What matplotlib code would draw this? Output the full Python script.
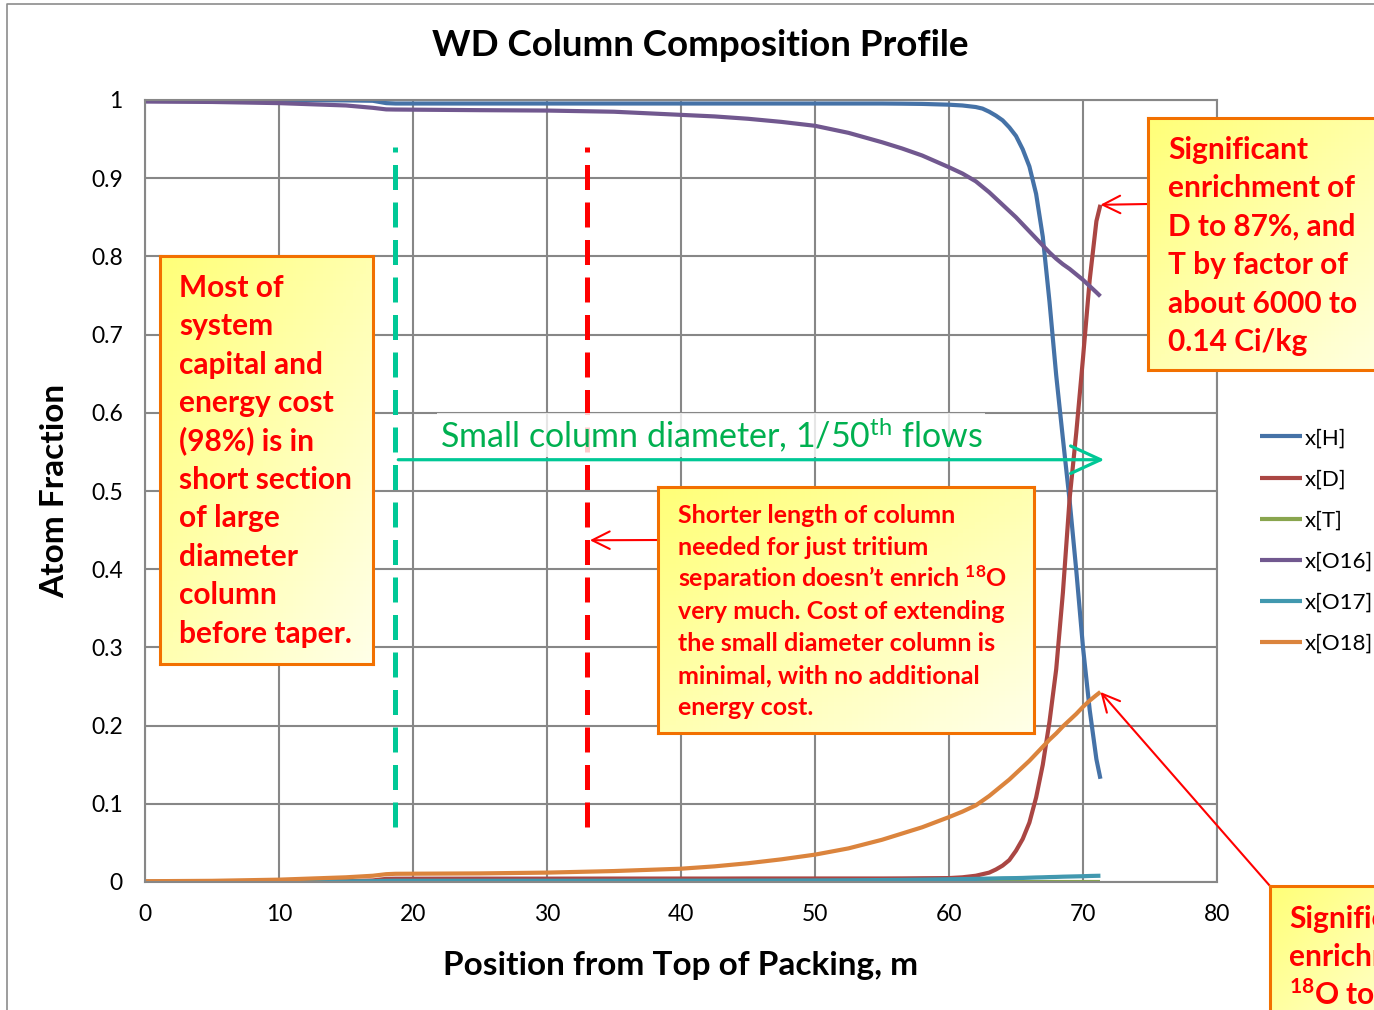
import numpy as np
import matplotlib.pyplot as plt
from matplotlib.colors import LinearSegmentedColormap
from matplotlib.lines import Line2D

plt.rcParams['font.family'] = ['Lato', 'DejaVu Sans']
plt.rcParams['mathtext.fontset'] = 'custom'
plt.rcParams['mathtext.rm'] = 'Lato'
plt.rcParams['mathtext.bf'] = 'Lato:bold'
plt.rcParams['mathtext.it'] = 'Lato:italic'

# Position from top of packing (m)
position = [0, 5, 10, 15, 17, 18, 18.7, 25, 30, 35, 40, 42.5, 45, 47.5, 50, 52.5, 55,
            56.5, 58, 60, 61, 62, 62.5, 63, 63.5, 64, 64.5, 65, 65.5, 66, 66.5, 67,
            67.5, 68, 68.5, 69, 69.5, 70, 70.5, 71, 71.3]

x_h = [1.0, 1.0, 0.9998, 0.9995, 0.999, 0.996, 0.9955, 0.9955, 0.9955, 0.9955, 0.9955,
       0.9955, 0.9955, 0.9955, 0.9955, 0.9955, 0.9955, 0.9953, 0.995, 0.994, 0.993,
       0.991, 0.989, 0.985, 0.980, 0.974, 0.965, 0.954, 0.937, 0.915, 0.880, 0.825,
       0.742, 0.648, 0.567, 0.488, 0.398, 0.300, 0.220, 0.157, 0.132]
x_d = [0.0002, 0.0003, 0.0005, 0.001, 0.002, 0.004, 0.0042, 0.0043, 0.0043, 0.0044,
       0.0044, 0.0044, 0.0045, 0.0045, 0.0045, 0.0045, 0.0045, 0.0046, 0.0048, 0.005,
       0.006, 0.008, 0.010, 0.012, 0.016, 0.021, 0.028, 0.040, 0.055, 0.076, 0.108,
       0.150, 0.205, 0.272, 0.370, 0.490, 0.575, 0.670, 0.770, 0.845, 0.866]
x_t = [0.0] * 41
x_o16 = [0.998, 0.9975, 0.996, 0.993, 0.990, 0.988, 0.9878, 0.987, 0.9865, 0.985, 0.981,
         0.979, 0.976, 0.972, 0.967, 0.958, 0.946, 0.938, 0.929, 0.914, 0.906, 0.896,
         0.889, 0.882, 0.874, 0.866, 0.858, 0.850, 0.841, 0.832, 0.823, 0.814, 0.805,
         0.797, 0.790, 0.784, 0.777, 0.770, 0.762, 0.754, 0.749]
x_o17 = [0.0003, 0.0004, 0.0005, 0.0008, 0.001, 0.0015, 0.0016, 0.0016, 0.0016, 0.0016,
         0.0017, 0.0017, 0.0018, 0.0019, 0.002, 0.0022, 0.0025, 0.0027, 0.003, 0.0035,
         0.0037, 0.004, 0.0042, 0.0044, 0.0046, 0.0048, 0.0049, 0.005, 0.0052, 0.0055,
         0.0058, 0.006, 0.0063, 0.0065, 0.0068, 0.007, 0.0072, 0.0074, 0.0077, 0.0079,
         0.008]
x_o18 = [0.001, 0.0015, 0.003, 0.006, 0.008, 0.010, 0.0105, 0.011, 0.012, 0.014, 0.017,
         0.020, 0.024, 0.029, 0.035, 0.043, 0.054, 0.062, 0.070, 0.083, 0.090, 0.098,
         0.104, 0.110, 0.117, 0.124, 0.131, 0.139, 0.147, 0.155, 0.164, 0.173, 0.182,
         0.190, 0.199, 0.207, 0.215, 0.224, 0.232, 0.239, 0.243]

series_names = ['x[H]', 'x[D]', 'x[T]', 'x[O16]', 'x[O17]', 'x[O18]']
series_colors = ['#4572A7', '#AA4643', '#89A54E', '#71588F', '#4198AF', '#DB843D']

taper_pos = 18.65      # end of large-diameter section
tritium_pos = 33.0     # column length needed for tritium only
marker_span = [0.07, 0.94]
flow_arrow = [18.9, 71.6, 0.54]

x_ticks = [0, 10, 20, 30, 40, 50, 60, 70, 80]
y_ticks = [0, 0.1, 0.2, 0.3, 0.4, 0.5, 0.6, 0.7, 0.8, 0.9, 1.0]
y_tick_labels = ['0', '0.1', '0.2', '0.3', '0.4', '0.5', '0.6', '0.7', '0.8', '0.9', '1']

note_capital = ['Most of', 'system', 'capital and', 'energy cost', '(98%) is in',
                'short section', 'of large', 'diameter', 'column', 'before taper.']
note_deuterium = ['Significant', 'enrichment of', 'D to 87%, and', 'T by factor of',
                  'about 6000 to', '0.14 Ci/kg']
note_tritium = ['Shorter length of column', 'needed for just tritium',
                'separation doesn\u2019t enrich $^{\\mathbf{18}}$O', 'very much. Cost of extending',
                'the small diameter column is', 'minimal, with no additional', 'energy cost.']
note_o18 = ['Significant', 'enrichment of', '$^{\\mathbf{18}}$O to 24%']

W, H = 1374, 1010
fig = plt.figure(figsize=(W / 100, H / 100), dpi=100)
ax = fig.add_axes([145 / W, 128 / H, 1072 / W, 782 / H])

all_series = [x_h, x_d, x_t, x_o16, x_o17, x_o18]
for vals, name, col in zip(all_series, series_names, series_colors):
    ax.plot(position, vals, color=col, lw=3, label=name, solid_capstyle='butt')

ax.set_xlim(0, 80)
ax.set_ylim(0, 1)
ax.set_xticks(x_ticks)
ax.set_yticks(y_ticks)
ax.set_yticklabels(y_tick_labels)
ax.tick_params(length=0, labelsize=16.5, pad=16)
ax.grid(True, color='#878787', lw=1.5)
ax.set_axisbelow(True)
for sp in ax.spines.values():
    sp.set_color('#878787')
    sp.set_linewidth(1.5)

# vertical markers
ax.plot([taper_pos, taper_pos], marker_span, color='#00C896', lw=3.6, dashes=(5, 2.5))
ax.plot([tritium_pos, tritium_pos], marker_span, color='#FF0000', lw=3.6, dashes=(5, 2.5))

# small column flow arrow
ax.annotate('', xy=(flow_arrow[1], flow_arrow[2]), xytext=(flow_arrow[0], flow_arrow[2]),
            arrowprops=dict(arrowstyle='->,head_length=1.2,head_width=0.55', color='#00C896',
                            lw=2.3, mutation_scale=18, shrinkA=0, shrinkB=0))
ax.text(22.0, 0.555, r'Small column diameter, 1/50$^{\rm th}$ flows', color='#00B050',
        fontsize=24.5, va='baseline', ha='left',
        bbox=dict(facecolor='white', alpha=0.8, edgecolor='none', pad=2))

leg = ax.legend(loc='center left', bbox_to_anchor=(1260 / W, (H - 541) / H),
                bbox_transform=fig.transFigure, frameon=False, fontsize=16,
                handlelength=1.9, handletextpad=0.1, labelspacing=0.95,
                borderpad=0, borderaxespad=0)

fig.text(700 / W, 1 - 46 / H, 'WD Column Composition Profile', ha='center', va='center',
         fontsize=26.5, fontweight='bold')
fig.text(681 / W, 1 - 966 / H, 'Position from Top of Packing, m', ha='center', va='center',
         fontsize=24, fontweight='bold')
fig.text(55 / W, 1 - 491 / H, 'Atom Fraction', ha='center', va='center', rotation=90,
         fontsize=24, fontweight='bold')

# chart area border
fig.add_artist(Line2D([7 / W, 7 / W, 1.0], [0, 1 - 4 / H, 1 - 4 / H],
                      transform=fig.transFigure, color='#8C8C8C', lw=1.2))

note_cmap = LinearSegmentedColormap.from_list('note', ['#FFFF78', '#FFFFE8'])
grad = np.add.outer(np.linspace(0, 1, 64), np.linspace(0, 1, 64)) / 2


def note_box(rect, lines, size, text_x, first_base, step):
    """Yellow gradient call-out box; rect and offsets are in pixels from top-left."""
    x0, y0, x1, y1 = rect
    bax = fig.add_axes([x0 / W, 1 - y1 / H, (x1 - x0) / W, (y1 - y0) / H])
    bax.imshow(grad, cmap=note_cmap, aspect='auto', extent=[0, 1, 0, 1], origin='upper')
    bax.set_xlim(0, 1)
    bax.set_ylim(0, 1)
    bax.set_xticks([])
    bax.set_yticks([])
    for sp in bax.spines.values():
        sp.set_color('#F27000')
        sp.set_linewidth(2.2)
    for i, line in enumerate(lines):
        fig.text((x0 + text_x) / W, 1 - (y0 + first_base + i * step) / H, line,
                 ha='left', va='baseline', color='#FF0000', fontsize=size, fontweight='bold')
    return bax


note_box((160, 256, 373, 664), note_capital, 21.5, 19, 41, 38.4)
note_box((1148, 118, 1420, 370), note_deuterium, 21.5, 20, 41, 38.4)
note_box((658, 487, 1034, 733), note_tritium, 18, 20, 36, 32)
note_box((1270, 886, 1440, 1060), note_o18, 21.5, 19, 42, 38.4)

red_arrow = dict(arrowstyle='->,head_length=0.9,head_width=0.45', color='#FF0000', lw=1.5,
                 mutation_scale=14, shrinkA=0, shrinkB=0)
ax.annotate('', xy=(position[-1], x_d[-1]), xytext=(1148, H - 204),
            textcoords='figure pixels', arrowprops=red_arrow, annotation_clip=False)
ax.annotate('', xy=(tritium_pos + 0.2, 0.437), xytext=(658, H - 540),
            textcoords='figure pixels', arrowprops=red_arrow, annotation_clip=False)
ax.annotate('', xy=(position[-1], x_o18[-1]), xytext=(1270, H - 886),
            textcoords='figure pixels', arrowprops=red_arrow, annotation_clip=False)

fig.savefig('out.png', dpi=100)
